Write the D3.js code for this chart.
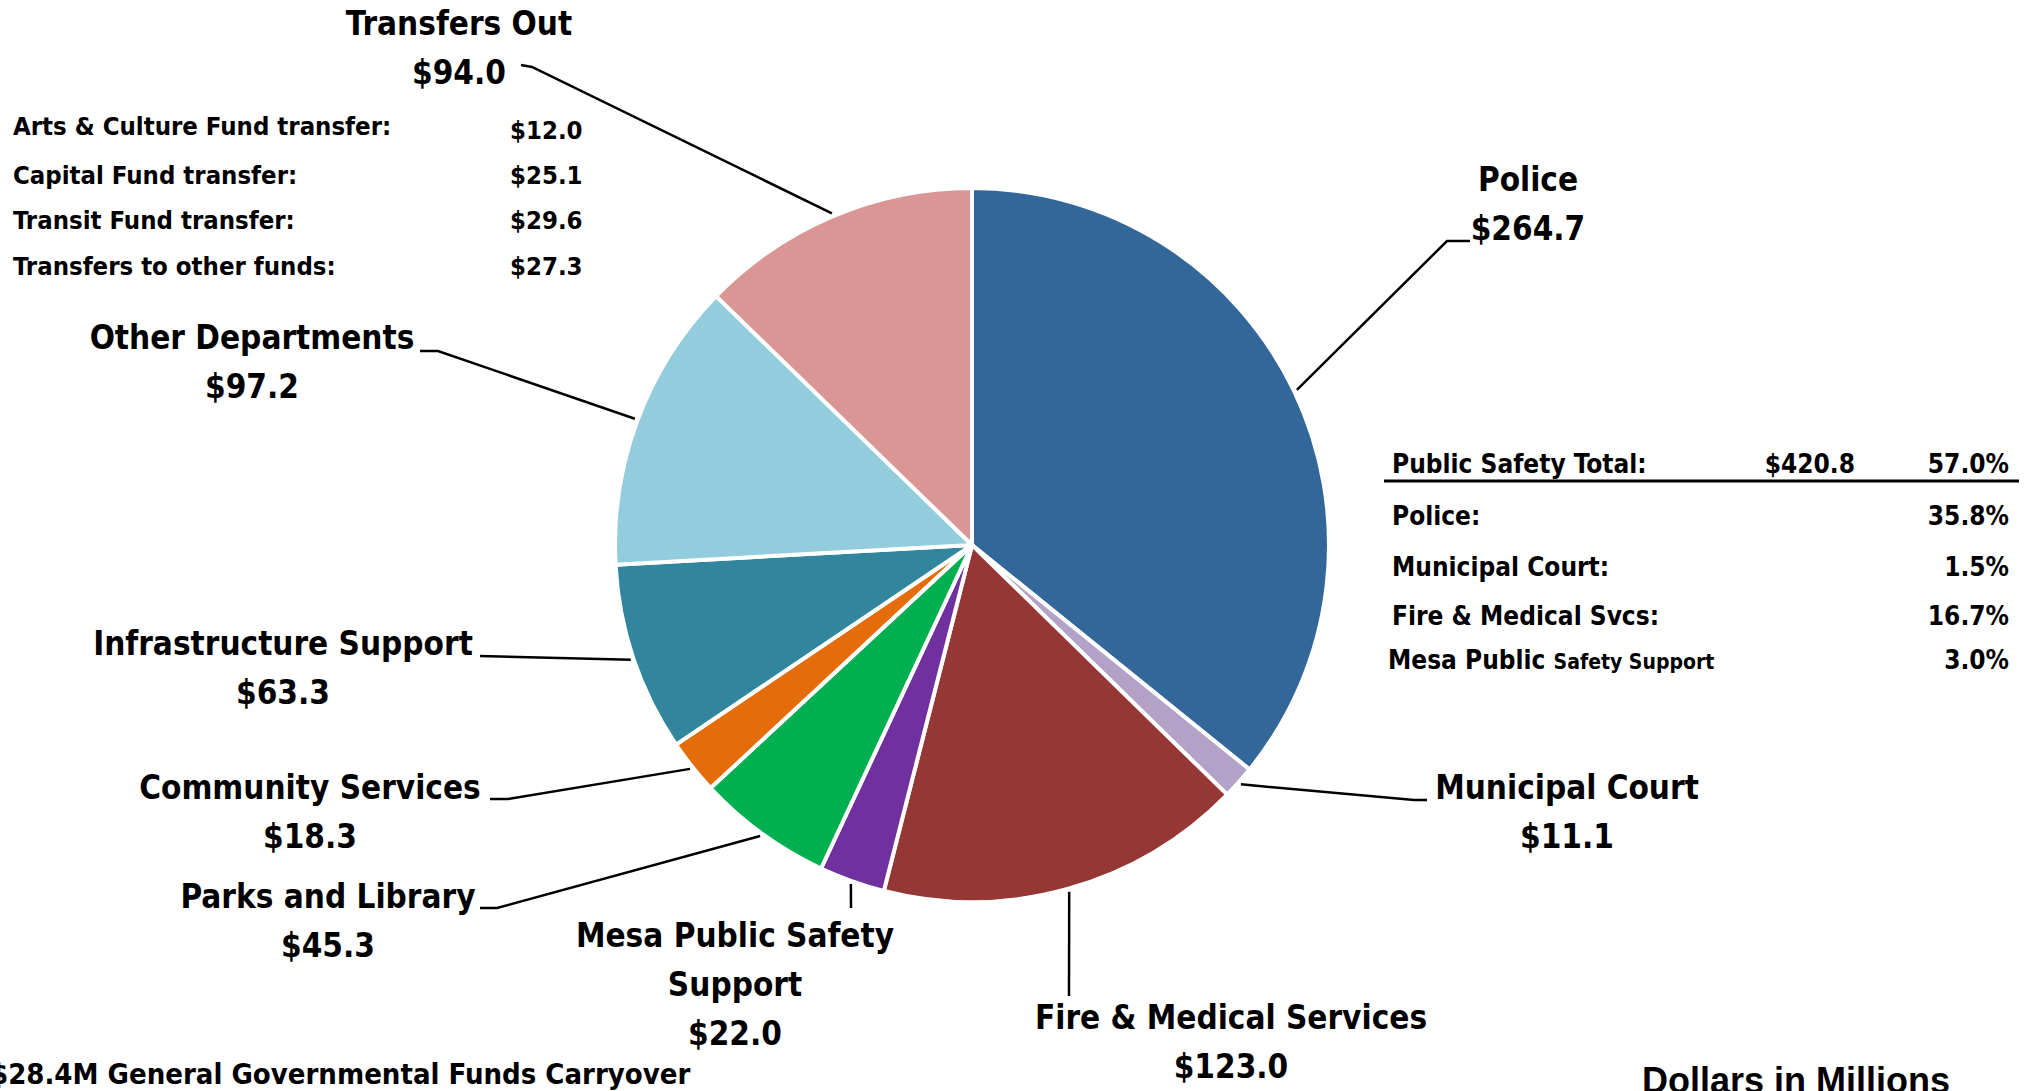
<!DOCTYPE html>
<html>
<head>
<meta charset="utf-8">
<script src="https://cdn.jsdelivr.net/npm/d3@7"></script>
<style>
  body { margin: 0; background: #fff; }
  text { font-family: "Liberation Sans Narrow", "DejaVu Sans Condensed", sans-serif; font-weight: bold; fill: #000; }
</style>
</head>
<body>
<script>
var width = 2034,
    height = 1091,
    radius = 357,
    cx = 972,
    cy = 545;

// slices, clockwise from 12 o'clock
var categories = ["Police", "Municipal Court", "Fire & Medical Services", "Mesa Public Safety Support",
                  "Parks and Library", "Community Services", "Infrastructure Support", "Other Departments", "Transfers Out"];
var values = [264.7, 11.1, 123.0, 22.0, 45.3, 18.3, 63.3, 97.2, 94.0];
var colors = ["#346799", "#b3a2c7", "#953735", "#7030a0", "#00b050", "#e46c0a", "#31859c", "#93cddd", "#d99694"];

// label text lines for each slice
var labelLines = [
  ["Police", "$264.7"],
  ["Municipal Court", "$11.1"],
  ["Fire & Medical Services", "$123.0"],
  ["Mesa Public Safety", "Support", "$22.0"],
  ["Parks and Library", "$45.3"],
  ["Community Services", "$18.3"],
  ["Infrastructure Support", "$63.3"],
  ["Other Departments", "$97.2"],
  ["Transfers Out", "$94.0"]
];

// transfers breakdown
var transferNames = ["Arts & Culture Fund transfer:", "Capital Fund transfer:", "Transit Fund transfer:", "Transfers to other funds:"];
var transferValues = ["$12.0", "$25.1", "$29.6", "$27.3"];

// public safety table
var safetyNames = ["Police:", "Municipal Court:", "Fire & Medical Svcs:"];
var safetyPcts = ["35.8%", "1.5%", "16.7%"];
var safetyTotal = ["Public Safety Total:", "$420.8", "57.0%"];
var mesaPct = "3.0%";

var footNote = "$28.4M General Governmental Funds Carryover";
var unitNote = "Dollars in Millions";

// label placement: text centre x, first line centre y, leader knee and end (null = straight)
var labelPos = [
  {x: 1528, y: 179, knee: [1447, 241], end: [1470, 241]},
  {x: 1567, y: 787, knee: [1414, 800], end: [1427, 800]},
  {x: 1231, y: 1017, knee: null, end: [1069, 996]},
  {x: 735, y: 935, knee: null, end: [851, 908]},
  {x: 328, y: 896, knee: [497, 908], end: [480, 908]},
  {x: 310, y: 787, knee: [508, 799], end: [490, 799]},
  {x: 283, y: 643, knee: null, end: [480, 656]},
  {x: 252, y: 337, knee: [438, 351], end: [420, 351]},
  {x: 459, y: 23, knee: [532, 67], end: [521, 65]}
];

var svg = d3.select("body").append("svg")
    .attr("width", width)
    .attr("height", height);

var pie = d3.pie()
    .sort(null)
    .value(function(d) { return d; });

var arc = d3.arc()
    .outerRadius(radius)
    .innerRadius(0);

var arcs = pie(values);

var g = svg.append("g")
    .attr("transform", "translate(" + cx + "," + cy + ")");

g.selectAll(".slice")
    .data(arcs)
    .enter().append("path")
    .attr("class", "slice")
    .attr("d", arc)
    .style("fill", function(d, i) { return colors[i]; })
    .style("stroke", "#fff")
    .style("stroke-width", 4)
    .style("stroke-linejoin", "round");

// leader lines from the slice edge at its mid angle
svg.selectAll(".leader")
    .data(arcs)
    .enter().append("polyline")
    .attr("class", "leader")
    .attr("points", function(d, i) {
      var a = (d.startAngle + d.endAngle) / 2,
          r = radius + 3,
          p = [cx + Math.sin(a) * r, cy - Math.cos(a) * r],
          lp = labelPos[i],
          pts = [p];
      if (lp.knee) pts.push(lp.knee);
      pts.push(lp.end);
      return pts.map(function(q) { return q.join(","); }).join(" ");
    })
    .style("fill", "none")
    .style("stroke", "#000")
    .style("stroke-width", 2.5);

var lineH = 49;
var labels = svg.selectAll(".label")
    .data(arcs)
    .enter().append("text")
    .attr("class", "label")
    .attr("text-anchor", "middle")
    .style("font-size", "33px");

labels.each(function(d, i) {
  var t = d3.select(this), lp = labelPos[i];
  labelLines[i].forEach(function(s, j) {
    t.append("tspan")
      .attr("x", lp.x)
      .attr("y", lp.y + j * lineH)
      .attr("dy", "0.35em")
      .text(s);
  });
});

// transfers breakdown block
var tf = svg.append("g").style("font-size", "25.5px");
tf.selectAll(".tname")
    .data(transferNames)
    .enter().append("text")
    .attr("x", 13)
    .attr("y", function(d, i) { return [126, 175, 220, 266][i]; })
    .attr("dy", "0.35em")
    .text(function(d) { return d; });
tf.selectAll(".tval")
    .data(transferValues)
    .enter().append("text")
    .attr("x", 510)
    .attr("y", function(d, i) { return [130, 175, 220, 266][i]; })
    .attr("dy", "0.35em")
    .text(function(d) { return d; });

// public safety table
var ps = svg.append("g").style("font-size", "26px");
ps.append("text").attr("x", 1392).attr("y", 464).attr("dy", "0.35em").text(safetyTotal[0]);
ps.append("text").attr("x", 1855).attr("y", 464).attr("dy", "0.35em").attr("text-anchor", "end").text(safetyTotal[1]);
ps.append("text").attr("x", 2009).attr("y", 464).attr("dy", "0.35em").attr("text-anchor", "end").text(safetyTotal[2]);
ps.append("line")
    .attr("x1", 1384).attr("x2", 2019)
    .attr("y1", 481).attr("y2", 481)
    .style("stroke", "#000").style("stroke-width", 3);

var rowY = [516, 567, 616];
ps.selectAll(".sname")
    .data(safetyNames)
    .enter().append("text")
    .attr("x", 1392)
    .attr("y", function(d, i) { return rowY[i]; })
    .attr("dy", "0.35em")
    .text(function(d) { return d; });
ps.selectAll(".spct")
    .data(safetyPcts)
    .enter().append("text")
    .attr("x", 2009)
    .attr("y", function(d, i) { return rowY[i]; })
    .attr("dy", "0.35em")
    .attr("text-anchor", "end")
    .text(function(d) { return d; });

var mesa = ps.append("text").attr("x", 1388).attr("y", 660).attr("dy", "0.35em");
mesa.append("tspan").text("Mesa Public ");
mesa.append("tspan").style("font-size", "21px").text("Safety Support");
ps.append("text").attr("x", 2009).attr("y", 660).attr("dy", "0.35em").attr("text-anchor", "end").text(mesaPct);

// notes
svg.append("text")
    .attr("x", -10).attr("y", 1074).attr("dy", "0.35em")
    .style("font-size", "29px")
    .text(footNote);
svg.append("text")
    .attr("x", 1642).attr("y", 1080).attr("dy", "0.35em")
    .style("font-size", "36px")
    .style("font-family", "'Liberation Sans', Arial, sans-serif")
    .text(unitNote);
</script>
</body>
</html>
